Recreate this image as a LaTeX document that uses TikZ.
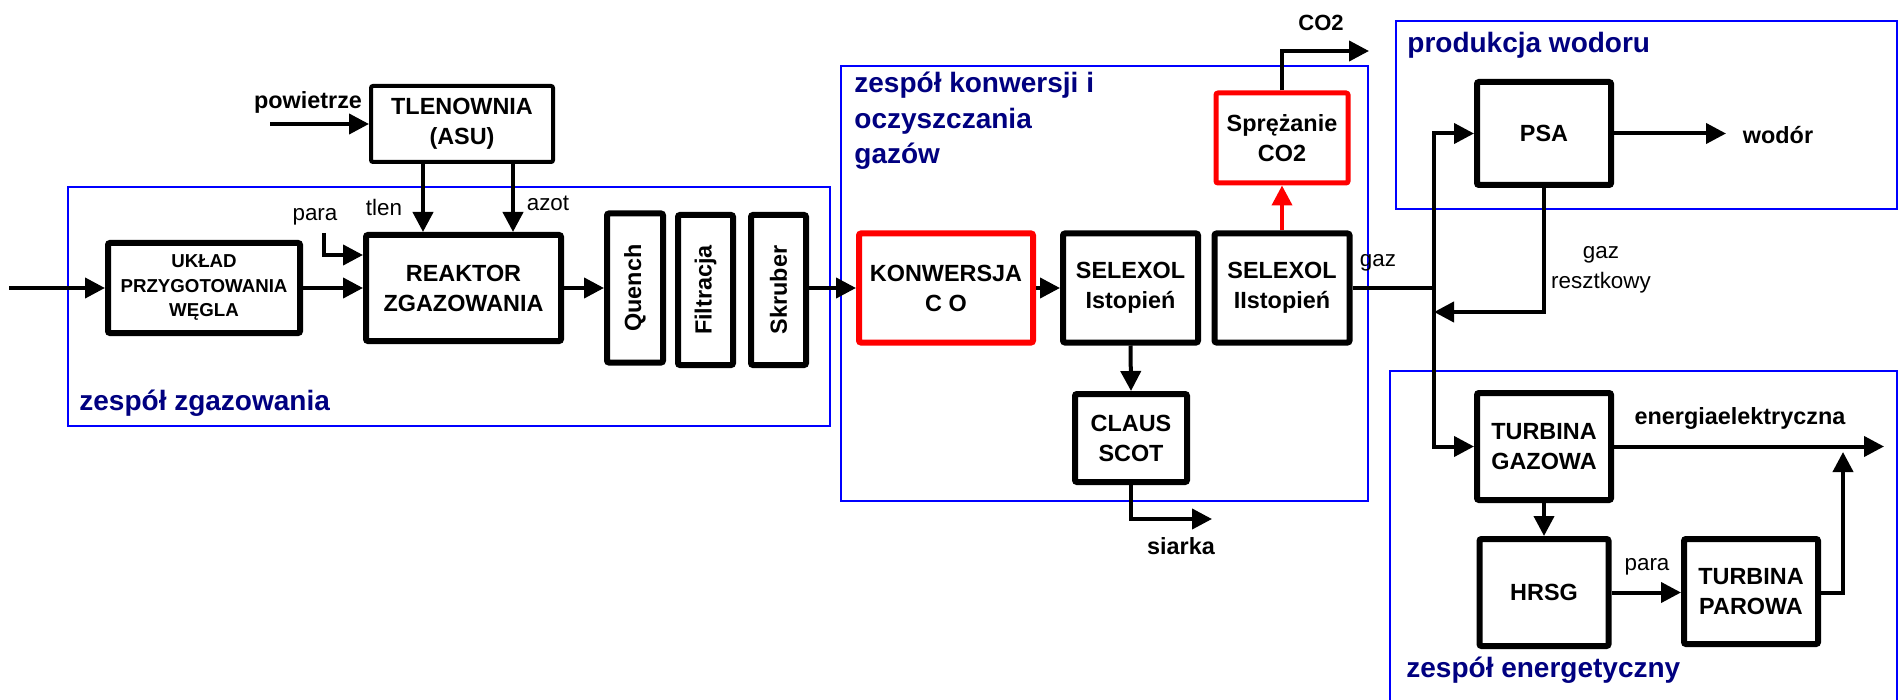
\documentclass[tikz,border=0pt]{standalone}
\usepackage{fontspec}
\setmainfont{Liberation Sans}
\usetikzlibrary{arrows.meta}
\definecolor{navy}{RGB}{0,0,128}
\definecolor{frameblue}{RGB}{0,0,255}
\begin{document}
\begin{tikzpicture}[x=0.5pt,y=-0.5pt,
  box/.style={draw, line width=3pt, rounded corners=1pt, inner sep=0pt, align=center,
    font=\bfseries\fontsize{11.7}{15}\selectfont},
  thinbox/.style={box, line width=2pt},
  redbox/.style={box, draw=red},
  group/.style={draw=frameblue, line width=1.2pt},
  grouplabel/.style={text=navy, anchor=west, inner sep=0pt, align=left,
    font=\bfseries\fontsize{14}{17.75}\selectfont},
  arr/.style={line width=2pt, -{Triangle[length=10pt,width=10pt]}},
  pipe/.style={line width=2pt},
  lbl/.style={inner sep=0pt, align=center, font=\fontsize{11.2}{15}\selectfont},
  blbl/.style={inner sep=0pt, align=center, font=\bfseries\fontsize{11.7}{15}\selectfont}
]
\useasboundingbox (0,0) rectangle (1899,700);

% group frames
\draw[group] (68,187) rectangle (830,426);
\draw[group] (841,66) rectangle (1368,501);
\draw[group] (1396,21) rectangle (1897,209);
\draw[group] (1390,371) rectangle (1897,703);

\node[grouplabel] (gz) at (79,403) {zespół zgazowania};
\node[grouplabel] (gk) at (854,121) {zespół konwersji i\\oczyszczania\\gazów};
\node[grouplabel] (gp) at (1407,45) {produkcja wodoru};
\node[grouplabel] (ge) at (1406,670) {zespół energetyczny};

% process blocks
\node[box, minimum width=96pt, minimum height=45pt,
  font=\bfseries\fontsize{9.35}{12.25}\selectfont] (UK) at (204,288) {UKŁAD\\PRZYGOTOWANIA\\WĘGLA};
\node[box, minimum width=97.5pt, minimum height=53pt] (RE) at (463.5,288) {REAKTOR\\ZGAZOWANIA};
\node[thinbox, minimum width=91pt, minimum height=38pt] (TL) at (462,124) {TLENOWNIA\\(ASU)};
\node[box, minimum width=28pt, minimum height=74.5pt] (QU) at (635,288) {\rotatebox{90}{Quench}};
\node[box, minimum width=27.5pt, minimum height=75pt] (FI) at (705.5,290) {\rotatebox{90}{Filtracja}};
\node[box, minimum width=27.5pt, minimum height=75pt] (SK) at (778.5,290) {\rotatebox{90}{Skruber}};
\node[redbox, minimum width=87pt, minimum height=54.5pt] (KO) at (946,288) {KONWERSJA\\C O};
\node[box, minimum width=67.5pt, minimum height=54.5pt] (S1) at (1130.5,288) {SELEXOL\\Istopień};
\node[box, minimum width=56pt, minimum height=44pt] (CL) at (1131,438) {CLAUS\\SCOT};
\node[box, minimum width=67.5pt, minimum height=54.5pt] (S2) at (1282,288) {SELEXOL\\IIstopień};
\node[redbox, line width=2.5pt, minimum width=66pt, minimum height=45pt] (SP) at (1282,138) {Sprężanie\\CO2};
\node[box, minimum width=67pt, minimum height=51.5pt] (PSA) at (1544,133.5) {PSA};
\node[box, minimum width=67pt, minimum height=53.5pt] (GT) at (1544,446.5) {TURBINA\\GAZOWA};
\node[box, minimum width=64.5pt, minimum height=53.5pt] (HR) at (1544,592.5) {HRSG};
\node[box, minimum width=67pt, minimum height=52.5pt] (TP) at (1751,591.5) {TURBINA\\PAROWA};

% free ends
\coordinate (inS) at (9,288);
\coordinate (airS) at (270,124);
\coordinate (tlenx) at (423,0);
\coordinate (azotx) at (513,0);
\coordinate (paraS) at (324,233);
\coordinate (paray) at (0,255);
\coordinate (co2E) at (1369,51);
\coordinate (siaE) at (1212,519);
\coordinate (jn) at (1434,288);
\coordinate (resE) at (1434,312);
\coordinate (h2E) at (1726,133.5);
\coordinate (elE) at (1884,446.5);
\coordinate (tpE) at (1843,452);

% connectors
\draw[arr] (inS) -- (UK.west);
\draw[arr] (UK.east) -- (RE.west);
\draw[arr] (airS) -- (TL.west);
\draw[arr] (TL.south -| tlenx) -- (RE.north -| tlenx);
\draw[arr] (TL.south -| azotx) -- (RE.north -| azotx);
\draw[arr] (paraS) |- (RE.west |- paray);
\draw[arr] (RE.east) -- (QU.west);
\draw[arr] (SK.east |- RE.east) -- (KO.west);
\draw[arr] (KO.east) -- (S1.west);
\draw[arr] (S1.south) -- (CL.north);
\draw[arr] (CL.south) |- (siaE);
\draw[arr, draw=red, fill=red] (S2.north) -- (SP.south);
\draw[arr] (SP.north) |- (co2E);
\draw[pipe] (S2.east) -- (jn);
\draw[arr] (jn) |- (PSA.west);
\draw[arr] (jn) |- (GT.west);
\draw[arr] (PSA.south) |- (resE);
\draw[arr] (PSA.east) -- (h2E);
\draw[arr] (GT.east) -- (elE);
\draw[arr] (GT.south) -- (HR.north);
\draw[arr] (HR.east) -- (TP.west |- HR.east);
\draw[arr] (TP.east |- HR.east) -| (tpE);

% labels
\node[blbl] (lpow) at (308,102) {powietrze};
\node[lbl] (ltlen) at (384,207) {tlen};
\node[lbl] (lazot) at (548,203) {azot};
\node[lbl] (lpara) at (315,217) {para};
\node[blbl, font=\bfseries\fontsize{11}{13}\selectfont] (lco2) at (1321,23) {CO2};
\node[lbl] (lgaz) at (1378,263) {gaz};
\node[lbl] (lres) at (1601,270) {gaz\\resztkowy};
\node[blbl] (lh2) at (1778,135) {wodór};
\node[blbl] (lel) at (1740,418) {energiaelektryczna};
\node[lbl] (lpara2) at (1647,567) {para};
\node[blbl] (lsia) at (1181,546) {siarka};
\end{tikzpicture}
\end{document}
